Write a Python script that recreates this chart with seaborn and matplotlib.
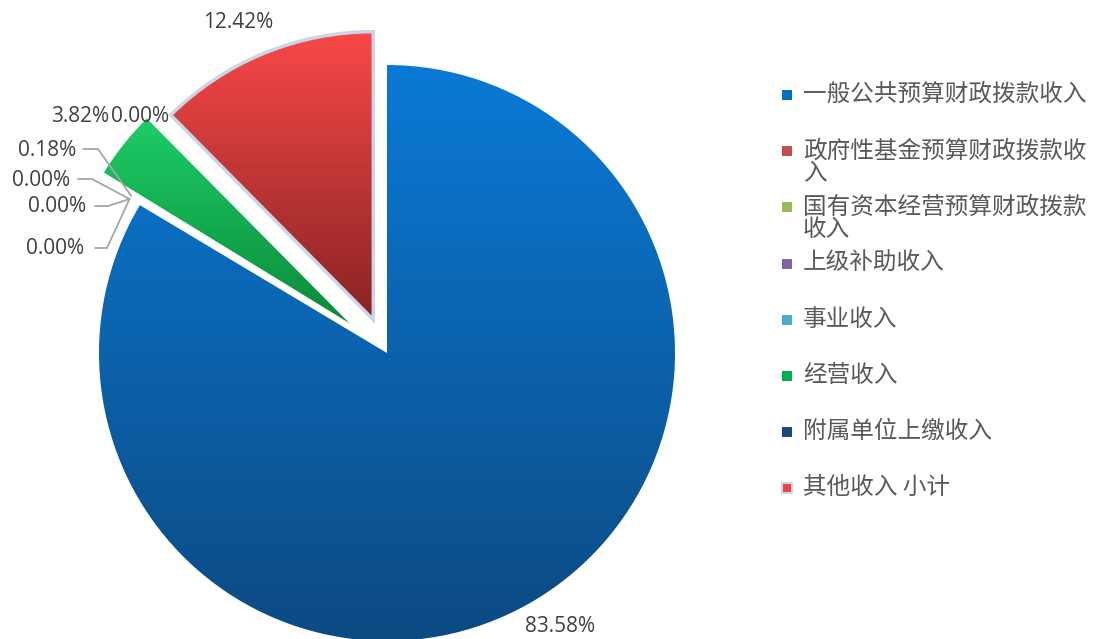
import numpy as np
import matplotlib.pyplot as plt
import seaborn as sns
from matplotlib.colors import LinearSegmentedColormap
from matplotlib.patches import Rectangle

sns.set_theme(style="white")
plt.rcParams['font.family'] = ['Open Sans', 'Noto Sans CJK SC', 'DejaVu Sans']

# 数据
categories = ['一般公共预算财政拨款收入', '政府性基金预算财政拨款收入', '国有资本经营预算财政拨款收入',
              '上级补助收入', '事业收入', '经营收入', '附属单位上缴收入', '其他收入 小计']
legend_labels = ['一般公共预算财政拨款收入', '政府性基金预算财政拨款收\n入', '国有资本经营预算财政拨款\n收入',
                 '上级补助收入', '事业收入', '经营收入', '附属单位上缴收入', '其他收入 小计']
shares = [83.58, 0.00, 0.00, 0.00, 0.18, 3.82, 0.00, 12.42]
legend_colors = ['#0070C0', '#C0504D', '#9BBB59', '#8064A2', '#4BACC6', '#00B050', '#1F497D', '#F24141']
grad_top = ['#0A7AD6', None, None, None, None, '#1ECD66', None, '#F94848']
grad_bot = ['#0D4A82', None, None, None, None, '#0B8A3A', None, '#882323']

W, H = 1093, 639
CX, CY, R = 387, H - 353, 288
explode = [0, 0, 0, 0, 0, 48, 0, 36]   # 数据坐标(像素)

fig = plt.figure(figsize=(W / 100, H / 100), dpi=100)
ax = fig.add_axes([0, 0, 1, 1])

wedges, _ = ax.pie(shares, startangle=90, counterclock=False, center=(CX, CY), radius=R,
                   explode=explode, wedgeprops=dict(linewidth=0))
ax.set_xlim(0, W)
ax.set_ylim(0, H)
ax.set_aspect('auto')
ax.axis('off')

grad = np.linspace(0, 1, 256).reshape(-1, 1)
for w, top, bot, cat in zip(wedges, grad_top, grad_bot, categories):
    if top is None:
        w.set_visible(False)
        continue
    ext = w.get_path().get_extents()
    cmap = LinearSegmentedColormap.from_list(cat, [top, bot])
    im = ax.imshow(grad, cmap=cmap, extent=(ext.x0, ext.x1, ext.y0, ext.y1),
                   origin='upper', aspect='auto', zorder=1)
    im.set_clip_path(w)
    w.set_facecolor('none')
    w.set_zorder(2)
    if cat == '其他收入 小计':
        w.set_edgecolor('#C9D5E8')
        w.set_linewidth(2.5)

# 百分比标签 (像素位置)
label_pos = [(560, 627), (55, 248), (57, 207), (41, 180), (47, 150), (80, 117), (140, 117), (238, 22)]
for v, (px, py) in zip(shares, label_pos):
    ax.text(px, H - py, f'{v:.2f}%', ha='center', va='center', fontsize=15, color='#404040')

# 引导线
leaders = {1: (95, 107, 248), 2: (95, 108, 206), 3: (78, 92, 179), 4: (83, 98, 149)}
for i, (xa, xb, ly) in leaders.items():
    w = wedges[i]
    th = np.deg2rad(w.theta1)
    cx, cy = w.center
    ex, ey = cx + (R + 12) * np.cos(th), cy + (R + 12) * np.sin(th)
    ax.plot([xa, xb, ex], [H - ly, H - ly, ey], color='#A6A6A6', lw=1.3, zorder=3)

# 图例
for i, (lab, col) in enumerate(zip(legend_labels, legend_colors)):
    ly = H - (95 + i * 56.2)
    ec = '#C9D5E8' if i == 7 else 'none'
    ax.add_patch(Rectangle((782, ly - 5), 10, 10, facecolor=col, edgecolor=ec, lw=1.5, zorder=3))
    ax.text(803, ly + 12, lab, ha='left', va='top', fontsize=17, color='#595959',
            family=['Noto Sans CJK SC', 'DejaVu Sans'], linespacing=1.0)

fig.savefig('out.png', dpi=100)
